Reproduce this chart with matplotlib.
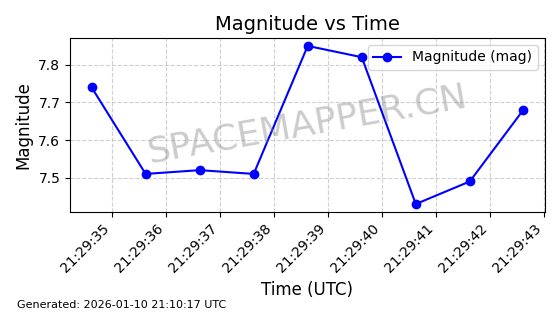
import datetime as dt
import matplotlib
matplotlib.use("Agg")
from matplotlib import pyplot as plt
import matplotlib.dates as mdates

# observation times (seconds past 21:29:00 UTC) and magnitudes
seconds = [34.63, 35.63, 36.63, 37.63, 38.63, 39.63, 40.63, 41.63, 42.62]
magnitude = [7.74, 7.51, 7.52, 7.51, 7.85, 7.82, 7.43, 7.49, 7.68]
generated = "Generated: 2026-01-10 21:10:17 UTC"

base = dt.datetime(2026, 1, 10, 21, 29, 0)
times = [base + dt.timedelta(seconds=s) for s in seconds]

fig, ax = plt.subplots(figsize=(5.6, 3.14), dpi=100)
fig.subplots_adjust(left=0.125, right=0.973, top=0.879, bottom=0.325)

ax.plot(times, magnitude, color="blue", marker="o", label="Magnitude (mag)")
ax.set_title("Magnitude vs Time", fontsize=14)
ax.set_xlabel("Time (UTC)", fontsize=12)
ax.set_ylabel("Magnitude", fontsize=12)
ax.grid(True, linestyle="--", alpha=0.6)
ax.legend(loc="upper right")

ax.xaxis.set_major_locator(mdates.SecondLocator())
ax.xaxis.set_major_formatter(mdates.DateFormatter("%H:%M:%S"))
plt.setp(ax.get_xticklabels(), rotation=45, ha="right")

ax.text(0.5, 0.5, "SPACEMAPPER.CN", transform=ax.transAxes, fontsize=26,
        color="gray", alpha=0.4, ha="center", va="center", rotation=10)

fig.text(0.03, 0.02, generated, fontsize=8)

fig.savefig("out.png")
